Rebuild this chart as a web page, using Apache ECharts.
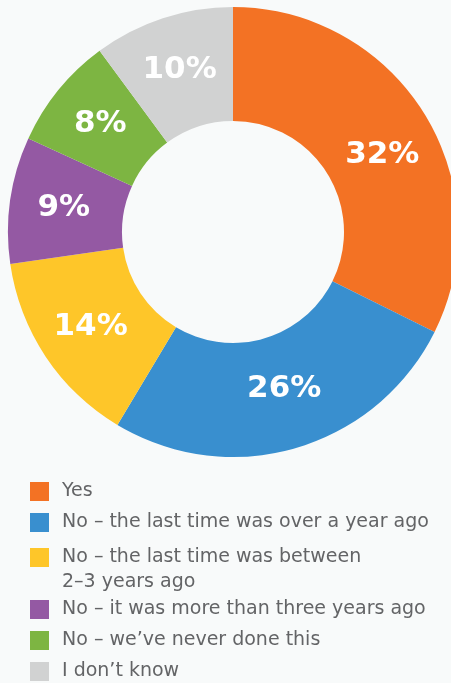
<!DOCTYPE html>
<html lang="en">
<head>
    <meta charset="UTF-8">
    <title>Survey donut</title>
    <script src="https://cdn.jsdelivr.net/npm/echarts@6/dist/echarts.min.js"></script>
    <style>
        html, body { margin: 0; padding: 0; background: #f8fafa; }
        #chart { width: 451px; height: 683px; }
    </style>
</head>
<body>
    <div id="chart"></div>
    <script>
        // answers, in clockwise order from 12 o'clock
        const categories = [
            "Yes",
            "No – the last time was over a year ago",
            "No – the last time was between\n2–3 years ago",
            "No – it was more than three years ago",
            "No – we’ve never done this",
            "I don’t know"
        ];
        const values = [32, 26, 14, 9, 8, 10];
        const colors = ["#f37224", "#398fcf", "#fec629", "#9459a3", "#7db542", "#d1d2d2"];

        const legendText = {
            fontFamily: "DejaVu Sans",
            fontSize: 19,
            color: "#636466",
            padding: [0, 0, 0, 8]
        };

        function makeLegend(names, top, extra) {
            return Object.assign({
                orient: "vertical",
                left: 30,
                top: top,
                padding: 0,
                itemGap: 12,
                itemWidth: 19,
                itemHeight: 19,
                icon: "rect",
                selectedMode: false,
                data: names,
                textStyle: Object.assign({}, legendText, { lineHeight: 19 })
            }, extra || {});
        }

        let chart = echarts.init(document.getElementById("chart"));
        chart.setOption({
            backgroundColor: "#f8fafa",
            animation: false,
            color: colors,
            legend: [
                makeLegend(categories.slice(0, 2), 482),
                // the wrapped item: square sits next to the first line
                makeLegend(categories.slice(2, 3), 545, {
                    itemHeight: 44,
                    icon: "path://M0,0H19V19H0Z M0,44H19",
                    textStyle: Object.assign({}, legendText, { lineHeight: 25 })
                }),
                makeLegend(categories.slice(3), 600)
            ],
            series: [{
                type: "pie",
                center: [233, 232],
                radius: [111, 225],
                startAngle: 90,
                clockwise: true,
                avoidLabelOverlap: false,
                label: {
                    show: true,
                    position: "inside",
                    formatter: "{c}%",
                    color: "#ffffff",
                    fontFamily: "DejaVu Sans",
                    fontWeight: "bold",
                    fontSize: 31
                },
                // small nudges for the two big slices
                labelLayout: function (params) {
                    if (params.dataIndex === 0) return { dx: 4, dy: 13 };
                    if (params.dataIndex === 1) return { dx: 3, dy: -7 };
                    return {};
                },
                labelLine: { show: false },
                emphasis: { disabled: true },
                data: categories.map((name, i) => ({ name: name, value: values[i] }))
            }]
        });
    </script>
</body>
</html>
